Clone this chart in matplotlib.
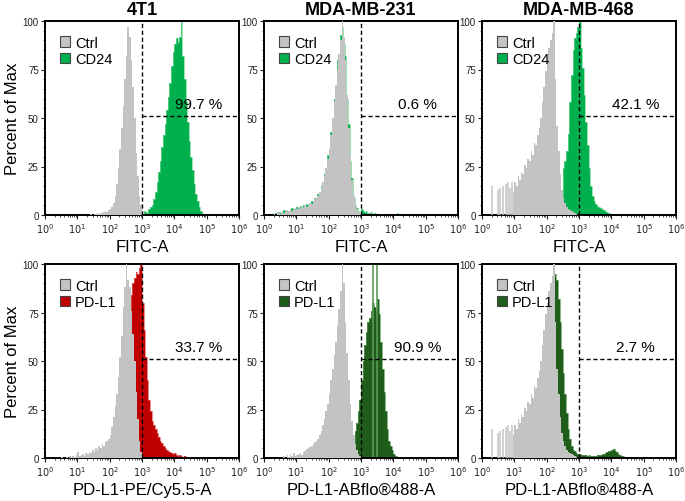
import numpy as np
import matplotlib
matplotlib.use("Agg")
import matplotlib.pyplot as plt
from matplotlib.patches import Patch
from matplotlib.ticker import FixedLocator, NullFormatter, LogLocator

plt.rcParams['font.family'] = ['Liberation Sans', 'DejaVu Sans']

# histogram bin width, in decades (log10 units)
bw = 0.05

# ---- 4T1 / CD24 (FITC-A)
ctrl_4t1_cd24_lo = 1.40
ctrl_4t1_cd24 = [0.5, 0, 0.5, 0.5, 1, 0.5, 1, 1, 1.5, 2, 1.5, 2.5, 3, 4, 6, 10,
                 16, 24, 34, 45, 56, 70, 82, 97, 92, 80, 66, 50, 32, 20, 10, 5]
cd24_4t1_lo = 3.05
cd24_4t1 = [2, 1.5, 1, 3, 4, 5, 8, 12, 17, 22, 28, 35, 41, 47, 54, 61, 68, 77, 84,
            88, 91, 89, 92, 100, 82, 70, 59, 48, 38, 30, 23, 16, 11, 7, 4, 2, 1]

# ---- MDA-MB-231 / CD24 (FITC-A)
ctrl_231_cd24_lo = 0.30
ctrl_231_cd24 = [1, 0, 1.5, 1, 0.5, 2, 1, 2.5, 1.5, 2, 3, 2, 3.5, 2.5, 3, 4, 3, 4.5,
                 3.5, 5, 4, 5, 6, 5.5, 7, 8, 9, 10, 12, 14, 17, 20, 24, 29, 34, 41,
                 50, 58, 67, 75, 83, 90, 100, 92, 80, 62, 45, 30, 18, 10, 6, 3, 2, 1]
cd24_231_lo = 0.30
cd24_231 = [0, 1, 0.5, 1.5, 1, 1, 2.5, 1, 2, 1.5, 2.5, 3.5, 2, 3, 4, 2.5, 4.5, 3,
            5, 4, 5.5, 4.5, 5, 7, 6, 9, 8, 11, 11, 15, 16, 21, 23, 31, 33, 43, 48,
            60, 66, 80, 82, 93, 97, 88, 82, 60, 47, 28, 19, 9, 5, 3.5, 2, 1, 3, 2,
            1.5, 2, 1, 1, 1.5, 0.5, 1, 0.5, 0.5, 0, 0, 0, 0, 0, 0, 0, 0, 0, 0, 0, 1]

# ---- MDA-MB-468 control (same control in both rows)
ctrl_468_lo = 0.95
ctrl_468 = [12, 17, 15, 20, 18, 22, 21, 26, 24, 29, 28, 33, 31, 37, 36, 41, 45,
            50, 58, 66, 74, 80, 86, 90, 94, 100, 70, 46, 33, 21, 13, 9, 6, 4, 3,
            2.5, 2, 1.5, 1, 0.5]
ctrl_468_spike_exp = [0.32, 0.50, 0.57, 0.65, 0.73, 0.80, 0.86, 0.92]
ctrl_468_spike = [15, 13, 14, 15, 16, 17, 14, 17]

cd24_468_lo = 2.50
cd24_468 = [24, 28, 33, 42, 58, 72, 85, 91, 94, 97, 100, 86, 76, 62, 48, 36, 24,
            15, 10, 7, 5.5, 4.5, 4, 3.5, 3, 2.5, 2, 1.5, 1, 0.5]

# ---- 4T1 / PD-L1 (PE/Cy5.5)
ctrl_4t1_pdl1_lo = 0.50
ctrl_4t1_pdl1 = [0.5, 0, 0, 0.5, 0, 1, 0.5, 1, 0.5, 1.5, 3, 1, 1.5, 2, 1, 2.5, 2,
                 3, 2.5, 4, 3, 5, 4, 6, 5, 7, 6, 8, 9, 10, 12, 16, 21, 27, 33, 42,
                 52, 63, 78, 88, 100, 92, 88, 76, 64, 50, 34, 20, 9, 3]
pdl1_4t1_lo = 2.20
pdl1_4t1 = [20, 25, 30, 35, 40, 50, 60, 68, 76, 84, 90, 93, 96, 95, 98, 100, 80,
            66, 52, 40, 30, 24, 19, 17, 15, 13, 11, 9, 7.5, 6, 5, 4, 3.5, 3, 2.5,
            2, 2.5, 1.5, 1, 1.5, 1, 0.5, 1]

# ---- MDA-MB-231 / PD-L1 (ABflo488)
ctrl_231_pdl1_lo = 0.60
ctrl_231_pdl1 = [1, 0, 1.5, 0.5, 2, 1, 2.5, 1, 1.5, 2, 2.5, 1.5, 3, 3.5, 4.5, 5,
                 5.5, 6, 7, 8, 9, 10, 12, 14, 17, 20, 24, 28, 33, 40, 46, 53, 60,
                 68, 77, 86, 100, 90, 70, 54, 40, 28, 19, 12, 7, 4, 2, 1]
pdl1_231_lo = 2.80
pdl1_231 = [14, 18, 24, 30, 40, 50, 58, 65, 70, 72, 76, 80, 78, 76, 82, 74, 60,
            46, 34, 24, 15, 9, 6, 4, 2, 1]
# two narrow single-channel spikes on top of the PD-L1 peak
pdl1_231_spike_exp = [3.36, 3.51]
pdl1_231_spike = [100, 100]

# ---- MDA-MB-468 / PD-L1 (ABflo488)
pdl1_468_lo = 1.80
pdl1_468 = [40, 48, 56, 64, 72, 80, 86, 90, 94, 95, 92, 82, 70, 56, 44, 33, 23,
            15, 10, 6, 4, 3.5, 2.5, 2, 2, 1.5, 1.5, 1.5, 1.5, 1, 1.5, 1, 1, 1, 1,
            1.5, 1.5, 1.5, 2, 2, 2.5, 3, 3.5, 3.5, 4, 4.5, 3.5, 3, 2, 1.5, 1, 1,
            0.5, 0.5, 0.5, 0.5]

titles = ["4T1", "MDA-MB-231", "MDA-MB-468"]
xlabels = ["FITC-A", "FITC-A", "FITC-A",
           "PD-L1-PE/Cy5.5-A", "PD-L1-ABflo\u00ae488-A", "PD-L1-ABflo\u00ae488-A"]
marker_names = ["CD24", "CD24", "CD24", "PD-L1", "PD-L1", "PD-L1"]
percents = ["99.7 %", "0.6 %", "42.1 %", "33.7 %", "90.9 %", "2.7 %"]

GRAY = "#c3c3c3"
GREEN = "#00b04f"
DKGREEN = "#1e5e1a"
RED = "#c00000"

panels = [
    (ctrl_4t1_cd24_lo, ctrl_4t1_cd24, False, cd24_4t1_lo, cd24_4t1, GREEN, "#6fd890"),
    (ctrl_231_cd24_lo, ctrl_231_cd24, False, cd24_231_lo, cd24_231, GREEN, "#6fd890"),
    (ctrl_468_lo, ctrl_468, True, cd24_468_lo, cd24_468, GREEN, "#6fd890"),
    (ctrl_4t1_pdl1_lo, ctrl_4t1_pdl1, False, pdl1_4t1_lo, pdl1_4t1, RED, "#e06060"),
    (ctrl_231_pdl1_lo, ctrl_231_pdl1, False, pdl1_231_lo, pdl1_231, DKGREEN, "#5a9a55"),
    (ctrl_468_lo, ctrl_468, True, pdl1_468_lo, pdl1_468, DKGREEN, "#5a9a55"),
]


def edges(lo, vals):
    return 10 ** (lo + bw * np.arange(len(vals) + 1))


fig = plt.figure(figsize=(6.85, 5.02), dpi=100)
lefts = [45, 264, 482]
bottoms = [286, 43]
W, H = 194, 194

for i, (clo, cvals, spikes, slo, svals, col, edgecol) in enumerate(panels):
    r, c = divmod(i, 3)
    ax = fig.add_axes([lefts[c] / 685, bottoms[r] / 502, W / 685, H / 502])

    # stained sample first, control drawn on top
    ax.stairs(svals, edges(slo, svals), fill=True, color=col, zorder=2)
    ax.stairs(svals, edges(slo, svals), color=edgecol, lw=0.5, zorder=2)
    if i == 4:
        ax.vlines(10 ** np.array(pdl1_231_spike_exp), 0, pdl1_231_spike,
                  color=edgecol, lw=1.2, zorder=2)
    ax.stairs(cvals, edges(clo, cvals), fill=True, color=GRAY, zorder=3)
    if spikes:
        ax.vlines(10 ** np.array(ctrl_468_spike_exp), 0, ctrl_468_spike,
                  color=GRAY, lw=1.1, zorder=3)

    ax.set_xscale("log")
    ax.set_xlim(1, 1e6)
    ax.set_ylim(0, 100)

    # gate
    ax.axvline(1e3, color="black", ls=(0, (3, 2)), lw=1, zorder=4)
    ax.plot([1e3, 1e6], [51, 51], color="black", ls=(0, (3, 2)), lw=1, zorder=4)
    ax.text(10 ** 4.75, 53.5, percents[i], ha="center", va="bottom", fontsize=11)

    ax.xaxis.set_major_locator(FixedLocator([10 ** k for k in range(7)]))
    ax.xaxis.set_minor_locator(LogLocator(base=10, subs=np.arange(2, 10), numticks=20))
    ax.xaxis.set_minor_formatter(NullFormatter())
    ax.set_xticklabels([r"$10^{%d}$" % k for k in range(7)])
    ax.set_yticks([0, 25, 50, 75, 100])
    ax.set_yticks(np.arange(0, 101, 5), minor=True)
    ax.tick_params(axis="both", which="major", labelsize=7, length=3, width=0.8,
                   pad=1.5, colors="#222222")
    ax.tick_params(axis="both", which="minor", length=1.5, width=0.5)
    for s in ax.spines.values():
        s.set_linewidth(1.4)

    ax.set_xlabel(xlabels[i], fontsize=12, labelpad=3)
    if c == 0:
        ax.set_ylabel("Percent of Max", fontsize=12, labelpad=2)
    if r == 0:
        ax.set_title(titles[c], fontsize=13, fontweight="bold", pad=5)

    handles = [Patch(facecolor=GRAY, edgecolor="#444444", lw=0.8, label="Ctrl"),
               Patch(facecolor=col, edgecolor="#444444", lw=0.8, label=marker_names[i])]
    ax.legend(handles=handles, loc="upper left", frameon=False, fontsize=10.5,
              handlelength=0.7, handleheight=0.7, handletextpad=0.35,
              labelspacing=0.15, borderaxespad=0.7, borderpad=0.3)

fig.savefig("out.png", dpi=100)
